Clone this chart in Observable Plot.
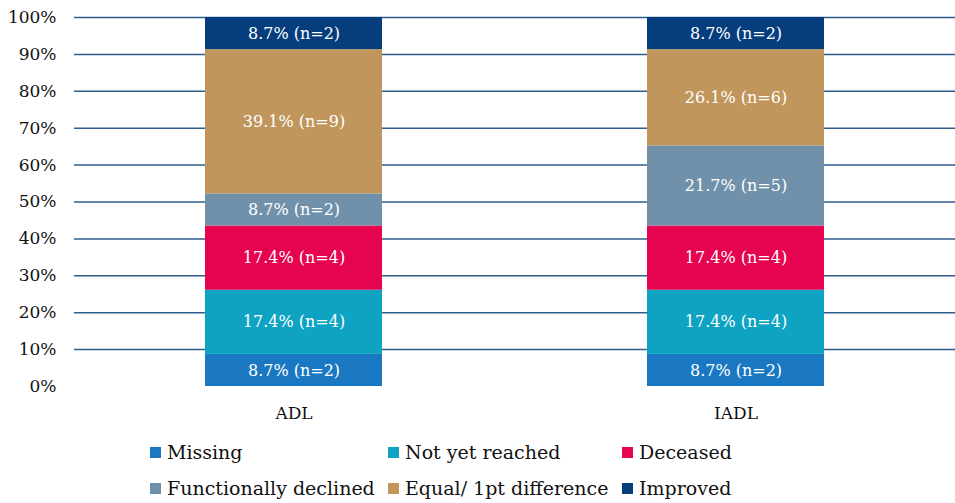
<!DOCTYPE html>
<html>
<head>
<meta charset="utf-8">
<script src="https://cdn.jsdelivr.net/npm/d3@7"></script>
<script src="https://cdn.jsdelivr.net/npm/@observablehq/plot@0.6"></script>
<style>
  html, body { margin: 0; padding: 0; background: #fff; }
  #wrap { width: 955px; font-family: "DejaVu Serif", serif; }
  .legend { display: grid; grid-template-columns: 238px 234px auto; margin-left: 150px; padding-top: 9px; }
  .item { display: flex; align-items: center; height: 36px; font-size: 19px; color: #111; white-space: nowrap; }
  .sw { width: 11px; height: 11px; margin-right: 6px; flex: none; }
</style>
</head>
<body>
<div id="wrap"></div>
<script>
const categories = ["ADL", "IADL"];
const series = ["Missing", "Not yet reached", "Deceased", "Functionally declined", "Equal/ 1pt difference", "Improved"];
const colors = ["#1a78c2", "#0ea3c3", "#e6034f", "#7191aa", "#c0965c", "#063e7d"];
const percentADL = [8.7, 17.4, 17.4, 8.7, 39.1, 8.7];
const percentIADL = [8.7, 17.4, 17.4, 21.7, 26.1, 8.7];
const countADL = [2, 4, 4, 2, 9, 2];
const countIADL = [2, 4, 4, 5, 6, 2];
const yTicks = [0, 10, 20, 30, 40, 50, 60, 70, 80, 90, 100];

const data = [];
categories.forEach((c, ci) => {
  const pct = ci === 0 ? percentADL : percentIADL;
  const cnt = ci === 0 ? countADL : countIADL;
  series.forEach((s, si) => data.push({category: c, series: s, value: pct[si], n: cnt[si]}));
});

const chart = Plot.plot({
  width: 955,
  height: 425,
  marginLeft: 74,
  marginRight: 0,
  marginTop: 17,
  marginBottom: 39,
  style: {fontFamily: "DejaVu Serif, serif", fontSize: "16px", color: "#111", background: "#fff"},
  x: {domain: categories, paddingInner: 0.6, paddingOuter: 0.296, label: null},
  y: {domain: [0, 100], label: null},
  color: {domain: series, range: colors},
  marks: [
    Plot.ruleY(yTicks.filter(d => d > 0), {stroke: "#2f5d8c", strokeWidth: 1.5}),
    Plot.barY(data, Plot.stackY({x: "category", y: "value", fill: "series", z: "series"})),
    Plot.text(data, Plot.stackY({x: "category", y: "value", z: "series", text: d => `${d.value}% (n=${d.n})`, fill: "white", fontSize: 16})),
    Plot.axisY({ticks: yTicks, tickFormat: d => d + "%", tickSize: 0, tickPadding: 18, fontSize: 17, label: null}),
    Plot.axisX({tickSize: 0, tickPadding: 20, fontSize: 17, label: null})
  ]
});

const wrap = document.getElementById("wrap");
wrap.appendChild(chart);
const legend = document.createElement("div");
legend.className = "legend";
series.forEach((s, i) => {
  const it = document.createElement("div");
  it.className = "item";
  it.innerHTML = `<span class="sw" style="background:${colors[i]}"></span><span>${s}</span>`;
  legend.appendChild(it);
});
wrap.appendChild(legend);
</script>
</body>
</html>
